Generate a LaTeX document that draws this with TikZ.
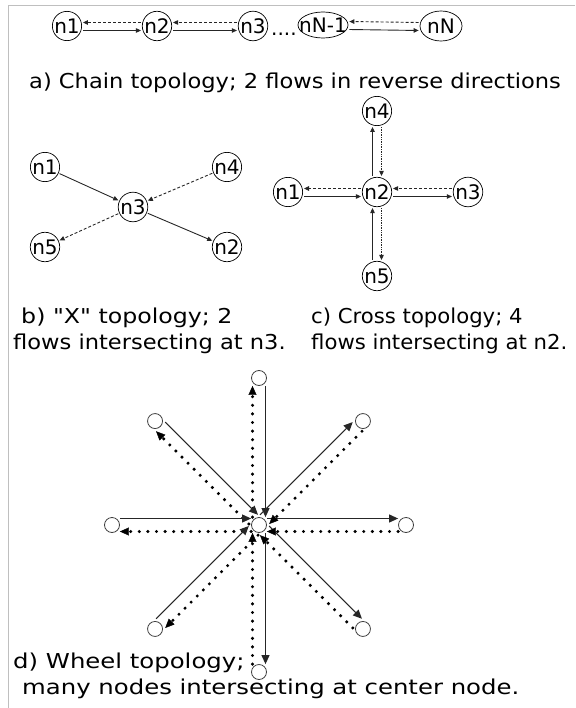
\documentclass[tikz,border=0pt]{standalone}
\usepackage{fontspec}
\setmainfont{DejaVu Sans}
\usetikzlibrary{arrows.meta, positioning, calc, shapes.geometric}

\begin{document}
\begin{tikzpicture}[x=1pt, y=1pt,
    every node/.style={font=\fontsize{20}{24}\selectfont, inner sep=0pt},
    pn/.style={circle, draw, line width=0.7pt, minimum size=28pt},
    en/.style={ellipse, draw, line width=0.7pt},
    wn/.style={circle, draw=black!75, line width=0.8pt, minimum size=15pt},
    captxt/.style={anchor=base west, xscale=1.1, font=\fontsize{20.5}{24}\selectfont},
    solidarr/.style={draw=black!85, line width=0.9pt, -{Triangle[length=5pt, width=4.5pt]}, shorten >=1pt, shorten <=1pt},
    dasharr/.style={solidarr, dash pattern=on 3pt off 2pt},
    dotarr/.style={solidarr, dash pattern=on 0.8pt off 0.9pt},
    wsolid/.style={draw=black!85, line width=1.1pt, -{Triangle[length=9pt, width=8pt]}},
    wdot/.style={draw=black, line width=3.4pt, line cap=round, dash pattern=on 0pt off 8.6pt, -{Triangle[length=9pt, width=8pt, line width=0.4pt]}}]
    \useasboundingbox (0,0) rectangle (575,-708);

    % 边框
    \coordinate (tr) at (575,-5);
    \coordinate (tl) at (8,-5);
    \coordinate (bl) at (8,-708);
    \draw[black!25, line width=0.8pt] (tr) -- (tl) -- (bl);

    % a) 链式
    \node[pn] (a1) at (67,-26) {n1};
    \node[pn] (a2) at (157,-26) {n2};
    \node[pn] (a3) at (253,-26) {n3};
    \node[anchor=base west] (adots) at (271,-36) {....};
    \node[en, inner xsep=-7pt, minimum width=50pt, minimum height=26pt] (aN1) at (323,-25) {nN-1};
    \node[en, minimum width=42pt, minimum height=30pt] (aN) at (441,-26) {nN};

    \draw[dasharr] ([yshift=3.5pt]a2.west) -- ([yshift=3.5pt]a1.east);
    \draw[solidarr] ([yshift=-4.5pt]a1.east) -- ([yshift=-4.5pt]a2.west);
    \draw[dasharr] ([yshift=3.5pt]a3.west) -- ([yshift=3.5pt]a2.east);
    \draw[solidarr] ([yshift=-4.5pt]a2.east) -- ([yshift=-4.5pt]a3.west);
    \draw[dasharr] ([yshift=3.5pt]aN.west) -- ([yshift=3.5pt]aN1.east);
    \draw[solidarr] ([yshift=-4.5pt]aN1.east) -- ([yshift=-4.5pt]aN.west);

    \node[captxt] (acap) at (29,-89) {a) Chain topology; 2 flows in reverse directions};

    % b) X 形
    \node[pn] (b1) at (45,-167) {n1};
    \node[pn] (b4) at (227,-167) {n4};
    \node[pn] (b3) at (133,-207) {n3};
    \node[pn] (b5) at (45,-247) {n5};
    \node[pn] (b2) at (227,-247) {n2};

    \draw[solidarr] (b1) -- (b3);
    \draw[solidarr] (b3) -- (b2);
    \draw[dasharr] (b4) -- (b3);
    \draw[dasharr] (b3) -- (b5);

    \node[captxt, xscale=1.05] (bcap1) at (21,-323) {b) \textquotedbl X\textquotedbl{} topology; 2};
    \node[captxt] (bcap2) at (13,-349) {flows intersecting at n3.};

    % c) 十字形
    \node[pn] (c2) at (377,-192) {n2};
    \node[pn] (c1) at (288,-192) {n1};
    \node[pn] (c3) at (468,-192) {n3};
    \node[pn] (c4) at (377,-111) {n4};
    \node[pn] (c5) at (377,-276) {n5};

    \draw[dasharr] ([yshift=3.5pt]c2.west) -- ([yshift=3.5pt]c1.east);
    \draw[solidarr] ([yshift=-4.5pt]c1.east) -- ([yshift=-4.5pt]c2.west);
    \draw[dasharr] ([yshift=3.5pt]c3.west) -- ([yshift=3.5pt]c2.east);
    \draw[solidarr] ([yshift=-4.5pt]c2.east) -- ([yshift=-4.5pt]c3.west);
    \draw[solidarr] ([xshift=-4.5pt]c2.north) -- ([xshift=-4.5pt]c4.south);
    \draw[dotarr] ([xshift=4.5pt]c4.south) -- ([xshift=4.5pt]c2.north);
    \draw[solidarr] ([xshift=-4.5pt]c5.north) -- ([xshift=-4.5pt]c2.south);
    \draw[dotarr] ([xshift=4.5pt]c2.south) -- ([xshift=4.5pt]c5.north);

    \node[captxt, xscale=0.94] (ccap1) at (311,-323) {c) Cross topology; 4};
    \node[captxt, xscale=0.94] (ccap2) at (311,-349) {flows intersecting at n2.};

    % d) 轮形
    \node[wn] (hub) at (259,-525) {};
    \foreach \a in {0,45,...,315}
        \node[wn] (w\a) at ([shift={(\a:147)}]hub) {};

    \foreach \a in {90,135,180,225} {
        \pgfmathtruncatemacro{\b}{mod(\a+180,360)}
        \pgfmathtruncatemacro{\p}{\a-90}
        \pgfmathtruncatemacro{\q}{\a+90}
        \draw[wsolid] ([shift={(\p:6.5)}]w\a.\b) -- ([shift={(\p:6.5)}]hub.\a);
        \draw[wsolid] ([shift={(\p:6.5)}]hub.\b) -- ([shift={(\p:6.5)}]w\b.\a);
        \draw[wdot] ([shift={(\q:6.5)}]w\b.\a) -- ([shift={(\q:6.5)}]hub.\b);
        \draw[wdot] ([shift={(\q:6.5)}]hub.\a) -- ([shift={(\q:6.5)}]w\a.\b);
    }

    \node[captxt, xscale=1.08] (dcap1) at (13,-668) {d) Wheel topology;};
    \node[captxt, xscale=1.08] (dcap2) at (22,-694) {many nodes intersecting at center node.};
\end{tikzpicture}
\end{document}
